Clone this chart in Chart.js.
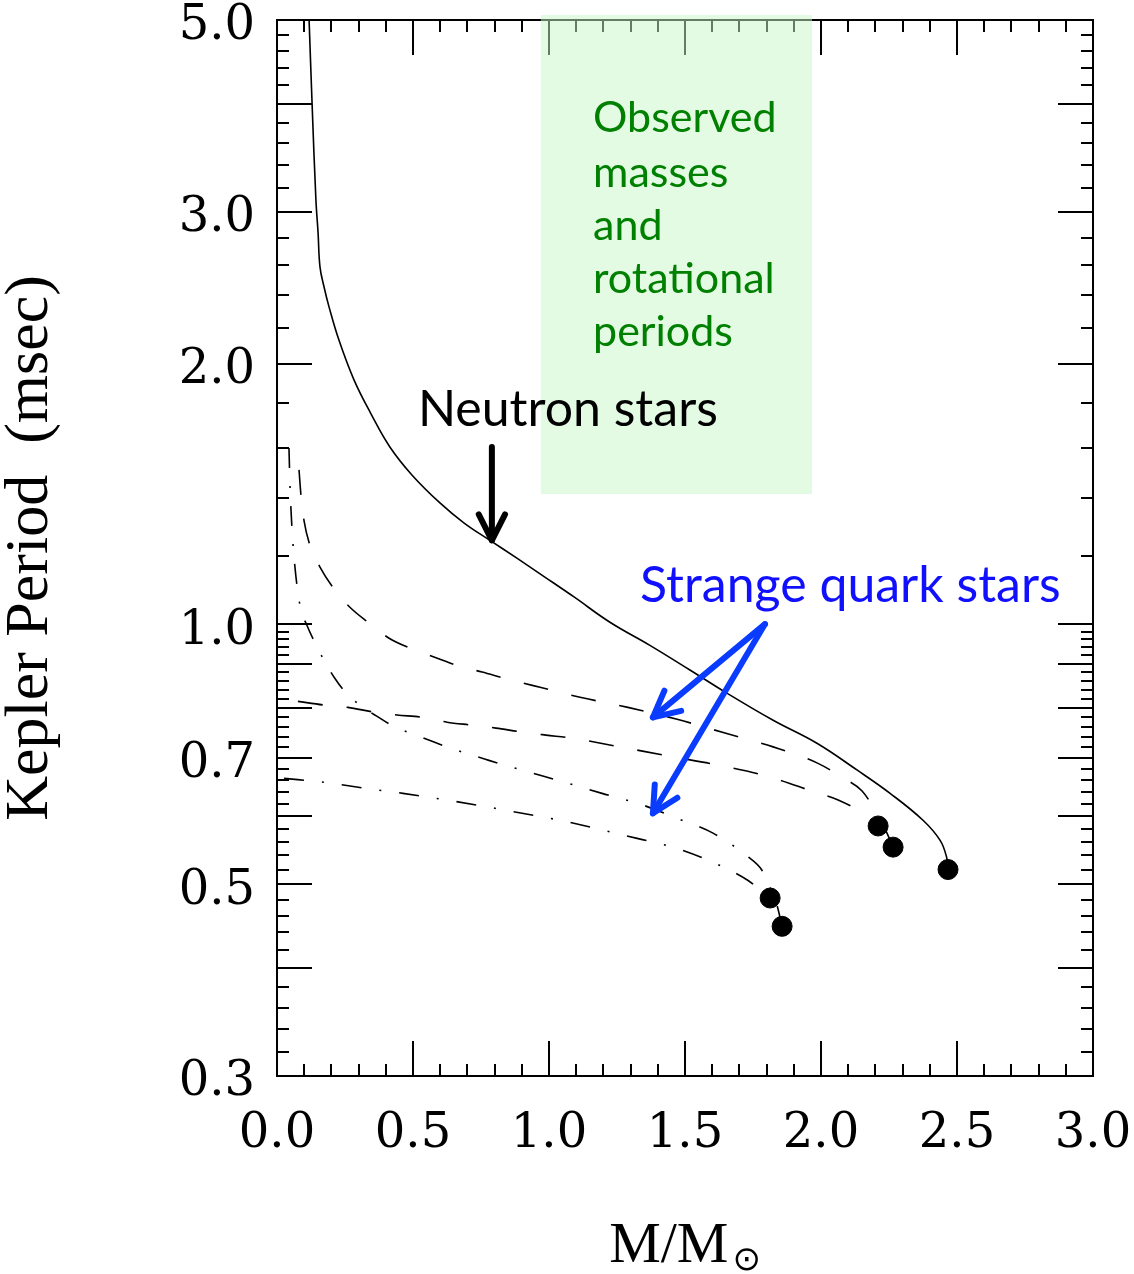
<!doctype html>
<html lang="en">
<head>
<meta charset="utf-8">
<title>Kepler period vs mass</title>
<script src="https://cdn.jsdelivr.net/npm/chart.js@4.4.1/dist/chart.umd.min.js"></script>
<style>
    html, body { margin: 0; padding: 0; background: #fff; }
    #holder { width: 1134px; height: 1274px; }
</style>
</head>
<body>
<div id="holder"><canvas id="chart"></canvas></div>

<script>
// neutron stars (solid line)
var neutronMass = [0.118, 0.129, 0.143, 0.151, 0.158, 0.173, 0.191, 0.228, 0.283, 0.346, 0.415, 0.496, 0.599, 0.688,
    0.783, 0.882, 0.982, 1.092, 1.224, 1.371, 1.518, 1.654, 1.824, 1.985, 2.132, 2.254, 2.375, 2.438, 2.462, 2.467];
var neutronPeriod = [5.0, 4.0, 3.10, 2.836, 2.59, 2.455, 2.33, 2.13, 1.917, 1.750, 1.603, 1.488, 1.381, 1.309,
    1.250, 1.192, 1.135, 1.075, 1.005, 0.945, 0.885, 0.832, 0.774, 0.728, 0.678, 0.637, 0.593, 0.562, 0.537, 0.520];

// strange quark stars, dashed pair
var dashedUpperMass = [0.081, 0.088, 0.099, 0.121, 0.158, 0.210, 0.268, 0.338, 0.412, 0.496, 0.577, 0.669, 0.754,
    0.846, 0.967, 1.114, 1.290, 1.471, 1.647, 1.824, 1.989, 2.077, 2.151, 2.199, 2.235, 2.265];
var dashedUpperPeriod = [1.508, 1.410, 1.319, 1.234, 1.164, 1.098, 1.046, 1.003, 0.963, 0.936, 0.916, 0.894, 0.880,
    0.864, 0.845, 0.823, 0.801, 0.776, 0.748, 0.721, 0.690, 0.665, 0.641, 0.609, 0.580, 0.552];
var dashedLowerMass = [0.077, 0.173, 0.261, 0.357, 0.441, 0.537, 0.625, 0.717, 0.805, 0.901, 0.989, 1.085, 1.261,
    1.445, 1.621, 1.801, 1.978, 2.063, 2.147, 2.210];
var dashedLowerPeriod = [0.814, 0.806, 0.801, 0.791, 0.785, 0.780, 0.770, 0.764, 0.758, 0.750, 0.744, 0.738, 0.721,
    0.703, 0.687, 0.667, 0.639, 0.626, 0.606, 0.584];

// strange quark stars, dash-dot pair
var dotUpperMass = [0.044, 0.048, 0.055, 0.066, 0.085, 0.110, 0.140, 0.173, 0.210, 0.254, 0.309, 0.368, 0.434,
    0.500, 0.636, 0.776, 0.912, 1.059, 1.195, 1.335, 1.471, 1.603, 1.728, 1.783, 1.813, 1.838, 1.857];
var dotUpperPeriod = [1.599, 1.440, 1.291, 1.164, 1.049, 0.997, 0.951, 0.908, 0.868, 0.832, 0.804, 0.782, 0.760,
    0.746, 0.719, 0.696, 0.676, 0.656, 0.637, 0.619, 0.596, 0.573, 0.539, 0.519, 0.496, 0.473, 0.447];
var dotLowerMass = [0.026, 0.176, 0.320, 0.463, 0.607, 0.754, 0.901, 1.040, 1.184, 1.324, 1.463, 1.603, 1.732, 1.813];
var dotLowerPeriod = [0.663, 0.656, 0.646, 0.637, 0.627, 0.616, 0.604, 0.593, 0.579, 0.565, 0.551, 0.530, 0.505, 0.482];

// maximum mass configurations (black dots)
var endMass = [2.467, 2.210, 2.265, 1.813, 1.857];
var endPeriod = [0.520, 0.584, 0.552, 0.482, 0.447];

var xTickValues = [0, 0.5, 1.0, 1.5, 2.0, 2.5, 3.0];
var yTickValues = [0.3, 0.5, 0.7, 1.0, 2.0, 3.0, 5.0];

function pairs(xs, ys) {
    return xs.map(function(x, i) { return {x: x, y: ys[i]}; });
}

function lineSet(label, xs, ys, dash, smooth) {
    var ds = {
        type: 'line',
        label: label,
        data: pairs(xs, ys),
        borderColor: '#000',
        borderWidth: 1.6,
        borderDash: dash,
        pointRadius: 0,
        fill: false
    };
    if (smooth) ds.tension = smooth;
    else ds.cubicInterpolationMode = 'monotone';
    return ds;
}

function arrow(ctx, x0, y0, x1, y1, color) {
    var ang = Math.atan2(y1 - y0, x1 - x0), len = 29, spread = 0.47;
    ctx.strokeStyle = color;
    ctx.lineWidth = 6;
    ctx.lineCap = 'round';
    ctx.lineJoin = 'round';
    ctx.beginPath();
    ctx.moveTo(x0, y0);
    ctx.lineTo(x1, y1);
    ctx.stroke();
    ctx.beginPath();
    ctx.moveTo(x1 - len * Math.cos(ang - spread), y1 - len * Math.sin(ang - spread));
    ctx.lineTo(x1, y1);
    ctx.lineTo(x1 - len * Math.cos(ang + spread), y1 - len * Math.sin(ang + spread));
    ctx.stroke();
}

var decorations = {
    id: 'decorations',
    afterDatasetsDraw: function(chart) {
        var ctx = chart.ctx, a = chart.chartArea;
        var xs = chart.scales.x, ys = chart.scales.y;
        ctx.save();

        // frame and inward ticks on all four sides
        ctx.strokeStyle = '#000';
        ctx.lineWidth = 2;
        ctx.strokeRect(a.left, a.top, a.right - a.left, a.bottom - a.top);
        ctx.beginPath();
        for (var i = 0; i <= 30; i++) {
            var px = Math.round(xs.getPixelForValue(i / 10));
            var len = (i % 5 === 0) ? 35 : 12;
            ctx.moveTo(px, a.bottom); ctx.lineTo(px, a.bottom - len);
            ctx.moveTo(px, a.top); ctx.lineTo(px, a.top + len);
        }
        var yMinor = [];
        for (var k = 15; k <= 50; k++) yMinor.push({v: k / 50, big: k % 5 === 0});
        for (var k2 = 6; k2 <= 25; k2++) yMinor.push({v: k2 / 5, big: k2 % 5 === 0});
        yMinor.forEach(function(t) {
            var py = Math.round(ys.getPixelForValue(t.v));
            var len = t.big ? 35 : 12;
            ctx.moveTo(a.left, py); ctx.lineTo(a.left + len, py);
            ctx.moveTo(a.right, py); ctx.lineTo(a.right - len, py);
        });
        ctx.stroke();

        // observed region
        var gx0 = xs.getPixelForValue(0.97), gx1 = xs.getPixelForValue(1.967);
        var gy1 = ys.getPixelForValue(1.414);
        ctx.fillStyle = 'rgba(200, 245, 200, 0.5)';
        ctx.fillRect(gx0, a.top - 5, gx1 - gx0, gy1 - a.top + 5);

        // labels
        ctx.textBaseline = 'middle';
        ctx.textAlign = 'left';
        ctx.fillStyle = '#008000';
        ctx.font = '43px Lato';
        var greenLines = ['Observed', 'masses', 'and', 'rotational', 'periods'];
        var greenY = [3.854, 3.328, 2.889, 2.508, 2.178];
        greenLines.forEach(function(s, i) {
            ctx.fillText(s, xs.getPixelForValue(1.162), ys.getPixelForValue(greenY[i]));
        });

        ctx.fillStyle = '#000';
        ctx.font = '50px Lato';
        ctx.fillText('Neutron stars', xs.getPixelForValue(0.518), ys.getPixelForValue(1.769));
        arrow(ctx, xs.getPixelForValue(0.79), ys.getPixelForValue(1.603),
            xs.getPixelForValue(0.79), ys.getPixelForValue(1.25), '#000');

        ctx.fillStyle = '#1010ff';
        ctx.fillText('Strange quark stars', xs.getPixelForValue(1.335), ys.getPixelForValue(1.106));
        var bx = xs.getPixelForValue(1.794), by = ys.getPixelForValue(1.0);
        arrow(ctx, bx, by, xs.getPixelForValue(1.382), ys.getPixelForValue(0.780), '#0a3cff');
        arrow(ctx, bx, by, xs.getPixelForValue(1.382), ys.getPixelForValue(0.604), '#0a3cff');

        // x axis title M/M(sun)
        ctx.fillStyle = '#000';
        ctx.textBaseline = 'alphabetic';
        ctx.font = '58px "Liberation Serif"';
        var main = 'M/M', wMain = ctx.measureText(main).width;
        ctx.font = '34px "DejaVu Sans"';
        var sun = '\u2299', wSun = ctx.measureText(sun).width;
        var cx = (a.left + a.right) / 2, x0 = cx - (wMain + wSun + 4) / 2;
        ctx.font = '58px "Liberation Serif"';
        ctx.fillText(main, x0, 1262);
        ctx.font = '34px "DejaVu Sans"';
        ctx.fillText(sun, x0 + wMain + 4, 1270);

        ctx.restore();
    }
};

var config = {
    type: 'line',
    data: {
        datasets: [
            lineSet('Neutron stars', neutronMass, neutronPeriod, [], 0.4),
            lineSet('Quark stars (dashed, upper)', dashedUpperMass, dashedUpperPeriod, [25, 24]),
            lineSet('Quark stars (dashed, lower)', dashedLowerMass, dashedLowerPeriod, [25, 24]),
            lineSet('Quark stars (dash-dot, upper)', dotUpperMass, dotUpperPeriod, [20, 18, 2, 18]),
            lineSet('Quark stars (dash-dot, lower)', dotLowerMass, dotLowerPeriod, [20, 18, 2, 18]),
            {
                type: 'scatter',
                label: 'Maximum mass',
                data: pairs(endMass, endPeriod),
                pointStyle: 'circle',
                pointRadius: 10,
                backgroundColor: '#000',
                borderColor: '#000',
                borderWidth: 1
            },
            {
                type: 'scatter',
                label: 'Maximum mass marks',
                data: pairs(endMass, endPeriod),
                pointStyle: 'star',
                pointRadius: 6,
                backgroundColor: 'rgba(0,0,0,0)',
                borderColor: '#555',
                borderWidth: 1
            }
        ]
    },
    options: {
        responsive: true,
        maintainAspectRatio: false,
        animation: false,
        layout: { padding: 0 },
        plugins: {
            legend: { display: false },
            tooltip: { enabled: false }
        },
        scales: {
            x: {
                type: 'linear',
                min: 0,
                max: 3,
                grid: { display: false, drawTicks: false },
                border: { display: false },
                afterBuildTicks: function(scale) {
                    scale.ticks = xTickValues.map(function(v) { return {value: v}; });
                },
                afterFit: function(scale) {
                    scale.height = 198;
                    scale.paddingLeft = 0;
                    scale.paddingRight = 41;
                },
                ticks: {
                    padding: 30,
                    color: '#000',
                    font: { family: '"DejaVu Serif"', size: 48 },
                    maxRotation: 0,
                    callback: function(v) { return Number(v).toFixed(1); }
                }
            },
            y: {
                type: 'logarithmic',
                min: 0.3,
                max: 5,
                grid: { display: false, drawTicks: false },
                border: { display: false },
                afterBuildTicks: function(scale) {
                    scale.ticks = yTickValues.map(function(v) { return {value: v}; });
                },
                afterFit: function(scale) {
                    scale.width = 277;
                    scale.paddingTop = 20;
                    scale.paddingBottom = 0;
                },
                title: {
                    display: true,
                    text: 'Kepler Period  (msec)',
                    color: '#000',
                    font: { family: '"Liberation Serif"', size: 62, lineHeight: 1.0 },
                    padding: 0
                },
                ticks: {
                    padding: 22,
                    labelOffset: 7,
                    color: '#000',
                    font: { family: '"DejaVu Serif"', size: 48 },
                    callback: function(v) { return Number(v).toFixed(1); }
                }
            }
        }
    },
    plugins: [decorations]
};

var chart = new Chart(document.getElementById('chart').getContext('2d'), config);
</script>
</body>
</html>
